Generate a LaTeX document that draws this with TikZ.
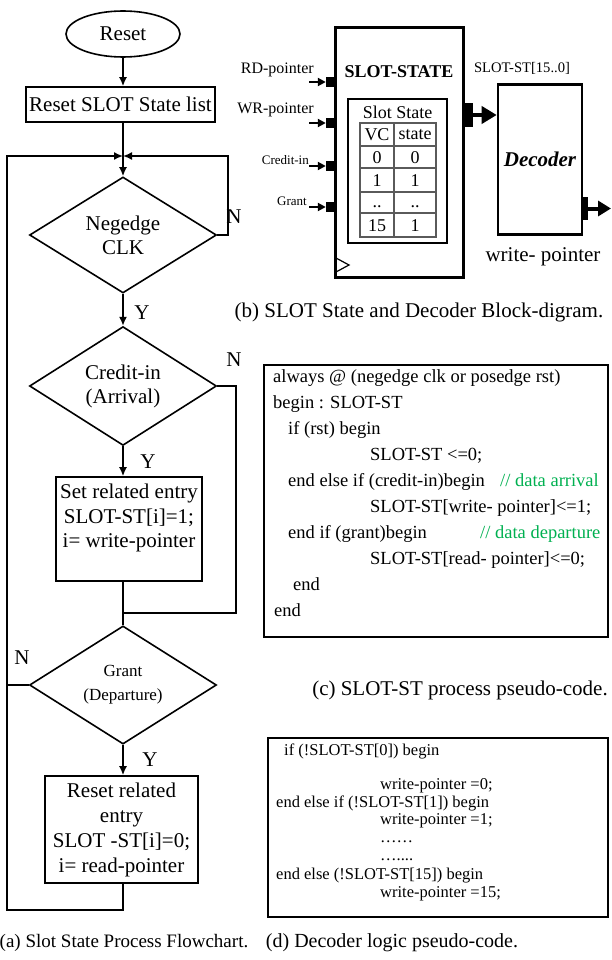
\documentclass[tikz,border=0pt]{standalone}
\usepackage{fontspec}
\setmainfont{Liberation Serif}
\usetikzlibrary{shapes.geometric,arrows.meta}
\newcommand\fsz[2]{\fontsize{#1}{#2}\selectfont}
\definecolor{cmtgreen}{RGB}{0,176,80}
\definecolor{gridgray}{RGB}{90,90,90}

\begin{document}
\begin{tikzpicture}[x=1pt,y=-1pt,
  flow/.style={line width=1.6pt},
  arr/.style={flow,-{Latex[length=9pt,width=8pt]}},
  fbox/.style={draw,flow,inner sep=0pt,align=center,font=\fsz{21}{24}},
  dmd/.style={draw,diamond,flow,inner sep=0pt,align=center,minimum width=187,minimum height=116},
  lab/.style={inner sep=0pt,font=\fsz{21}{24}},
  port/.style={fill,inner sep=0pt,minimum width=8,minimum height=10},
  inarr/.style={line width=2pt,-{Triangle[length=8pt,width=8pt]}},
  busarr/.style={line width=4.5pt,-{Triangle[length=15pt,width=17pt]}},
  sig/.style={anchor=east,inner sep=0pt},
  cell/.style={inner sep=0pt,font=\fsz{18}{20}},
  code/.style={anchor=west,inner sep=0pt,text height=0.7em,text depth=0.2em},
  caption/.style={inner sep=0pt}
]
\useasboundingbox (0,0) rectangle (611,960);

% ---------------- (a) flowchart ----------------
\node[draw,ellipse,flow,minimum width=114,minimum height=46,font=\fsz{21}{24}] (start) at (123,34) {Reset};
\node[fbox,minimum width=189,minimum height=35] (rst) at (120.5,104.5) {Reset SLOT State list};
\coordinate (merge) at (123,156);
\node[dmd,font=\fsz{21}{24}] (clk) at (123,235) {Negedge\\CLK};
\node[dmd,font=\fsz{21}{24}] (crd) at (123,386) {Credit-in\\(Arrival)};
\node[draw,flow,minimum width=146,minimum height=104] (setb) at (129,529) {};
\node[lab,align=center,anchor=north,font=\fsz{21}{24.5}] (settxt) at (setb.north) [yshift=-8pt] {Set related entry\\SLOT-ST[i]=1;\\ i= write-pointer};
\coordinate (join) at (123,613);
\node[dmd,font=\fsz{17}{24}] (gnt) at (123,685) {Grant\\(Departure)};
\node[fbox,minimum width=153,minimum height=107,font=\fsz{21}{25}] (clr) at (121.5,829.5) {Reset related\\entry\\SLOT -ST[i]=0;\\i= read-pointer};

\coordinate (rt1) at (228,156);
\coordinate (rt2) at (236,613);
\coordinate (lb) at (7,910);
\coordinate (lt) at (7,156);

\draw[arr] (start) -- (start.south |- rst.north);
\draw[flow] (rst.south -| merge) -- (merge);
\draw[arr] (merge) -- (clk.north);
\draw[arr] (clk.east) -| (rt1) -- (merge);
\draw[arr] (clk.south) -- (crd.north);
\draw[arr] (crd.south) -- (crd.south |- setb.north);
\draw[flow] (crd.east) -| (rt2) -- (join);
\draw[flow] (setb.south -| gnt.north) -- (gnt.north);
\draw[arr] (gnt.south) -- (gnt.south |- clr.north);
\draw[arr] (clr.south -| gnt.south) |- (lb) -- (lt) -- (merge);
\draw[flow] (gnt.west) -- (gnt.west -| lb);

\node[lab] (n1) at (234,217) {N};
\node[lab] (y1) at (142,313) {Y};
\node[lab] (n2) at (234,360) {N};
\node[lab] (y2) at (148,462) {Y};
\node[lab] (n3) at (22,658) {N};
\node[lab] (y3) at (150,760) {Y};

\node[caption,font=\fsz{19}{22}] (capa) at (124,943) {(a) Slot State Process Flowchart.};

% ---------------- (b) block diagram ----------------
\node[draw,line width=3pt,minimum width=128,minimum height=249,inner sep=0pt] (ss) at (399,152.5) {};
\node[inner sep=0pt,font=\fsz{18}{20}\bfseries] (sstitle) at (399,72) {SLOT-STATE};
\node[draw,line width=1.3pt,minimum width=99,minimum height=144,inner sep=0pt] (tbl) at (397.5,171) {};
\node[cell] (tbltitle) at (397.5,112) {Slot State};
\draw[gridgray,line width=1.3pt] (360,123) rectangle (436,237);
\foreach \yy in {146,168,192,213} \draw[gridgray,line width=1.3pt] (360,\yy) -- (436,\yy);
\draw[gridgray,line width=1.3pt] (394,123) -- (394,237);
\node[cell] (c11) at (377,135) {VC};
\node[cell] (c12) at (415,135) {state};
\node[cell] (c21) at (377,157.5) {0};
\node[cell] (c22) at (415,157.5) {0};
\node[cell] (c31) at (377,180.5) {1};
\node[cell] (c32) at (415,180.5) {1};
\node[cell] (c41) at (377,207) {..};
\node[cell] (c42) at (415,207) {..};
\node[cell] (c51) at (377,225.5) {15};
\node[cell] (c52) at (415,225.5) {1};
% clock input
\draw[line width=1.2pt] (336,258) -- (349,265) -- (336,272);

% input ports
\node[port] (prd) at (330,82) {};
\node[port] (pwr) at (330,123) {};
\node[port] (pcr) at (330,166) {};
\node[port] (pgr) at (330,207) {};
\coordinate (ard) at (309,82);
\coordinate (awr) at (309,123);
\coordinate (acr) at (309,166);
\coordinate (agr) at (309,207);
\draw[inarr] (ard) -- (prd.west);
\draw[inarr] (awr) -- (pwr.west);
\draw[inarr] (acr) -- (pcr.west);
\draw[inarr] (agr) -- (pgr.west);
\node[sig,font=\fsz{16}{18}] (lrd) at (314,70) {RD-pointer};
\node[sig,font=\fsz{16}{18}] (lwr) at (314,110) {WR-pointer};
\node[sig,font=\fsz{13}{15}] (lcr) at (309,160) {Credit-in};
\node[sig,font=\fsz{13}{15}] (lgr) at (307,201) {Grant};

% bus output to decoder
\node[fill,inner sep=0pt,minimum width=10,minimum height=24] (pout) at (468,115) {};
\node[draw,line width=2.6pt,minimum width=84,minimum height=150,inner sep=0pt,font=\fsz{21}{24}\bfseries\itshape] (dec) at (540,159.5) {Decoder};
\draw[busarr] (pout.east) -- (dec.west |- pout.east);
\node[inner sep=0pt,font=\fsz{14.6}{17}] (busl) at (522,68) {SLOT-ST[15..0]};
\node[fill,inner sep=0pt,minimum width=6,minimum height=23] (dout) at (585,208.5) {};
\coordinate (dend) at (611,208.5);
\draw[line width=4pt,-{Triangle[length=13pt,width=15pt]}] (dout.east) -- (dend);
\node[inner sep=0pt,font=\fsz{21}{24}] (wpl) at (543,257) {write- pointer};

\node[caption,font=\fsz{21}{24}] (capb) at (419,312) {(b) SLOT State and Decoder Block-digram.};

% ---------------- (c) process pseudo-code ----------------
\node[draw,line width=2.2pt,minimum width=344,minimum height=272,inner sep=0pt] (codec) at (436,501) {};
\begin{scope}[every node/.append style={code,font=\fsz{18.5}{20}}]
\node (l1) at (273,380) {always @ (negedge clk or posedge rst)};
\node (l2) at (273,406) {begin : SLOT-ST};
\node (l3) at (288,432) {if (rst) begin};
\node (l4) at (370,458) {SLOT-ST <=0;};
\node (l5) at (288,484) {end else if (credit-in)begin};
\node[text=cmtgreen] (l5c) at (500,484) {// data arrival};
\node (l6) at (370,510) {SLOT-ST[write- pointer]<=1;};
\node (l7) at (288,536) {end if (grant)begin};
\node[text=cmtgreen] (l7c) at (480,536) {// data departure};
\node (l8) at (370,562) {SLOT-ST[read- pointer]<=0;};
\node (l9) at (293,588) {end};
\node (l10) at (274,614) {end};
\end{scope}
\node[caption,font=\fsz{21}{24}] (capc) at (460,690) {(c) SLOT-ST process pseudo-code.};

% ---------------- (d) decoder pseudo-code ----------------
\node[draw,line width=2.2pt,minimum width=340,minimum height=179,inner sep=0pt] (coded) at (438,827.5) {};
\begin{scope}[every node/.append style={code,font=\fsz{16.5}{19}}]
\node (d1) at (284,753) {if (!SLOT-ST[0]) begin};
\node (d2) at (380,787) {write-pointer =0;};
\node (d3) at (276,805) {end else if (!SLOT-ST[1]) begin};
\node (d4) at (380,822) {write-pointer =1;};
\node (d5) at (380,840) {……};
\node (d6) at (380,858) {…....};
\node (d7) at (276,877) {end else (!SLOT-ST[15]) begin};
\node (d8) at (380,895) {write-pointer =15;};
\end{scope}
\node[caption,font=\fsz{20}{23}] (capd) at (392,943) {(d) Decoder logic pseudo-code.};
\end{tikzpicture}
\end{document}
